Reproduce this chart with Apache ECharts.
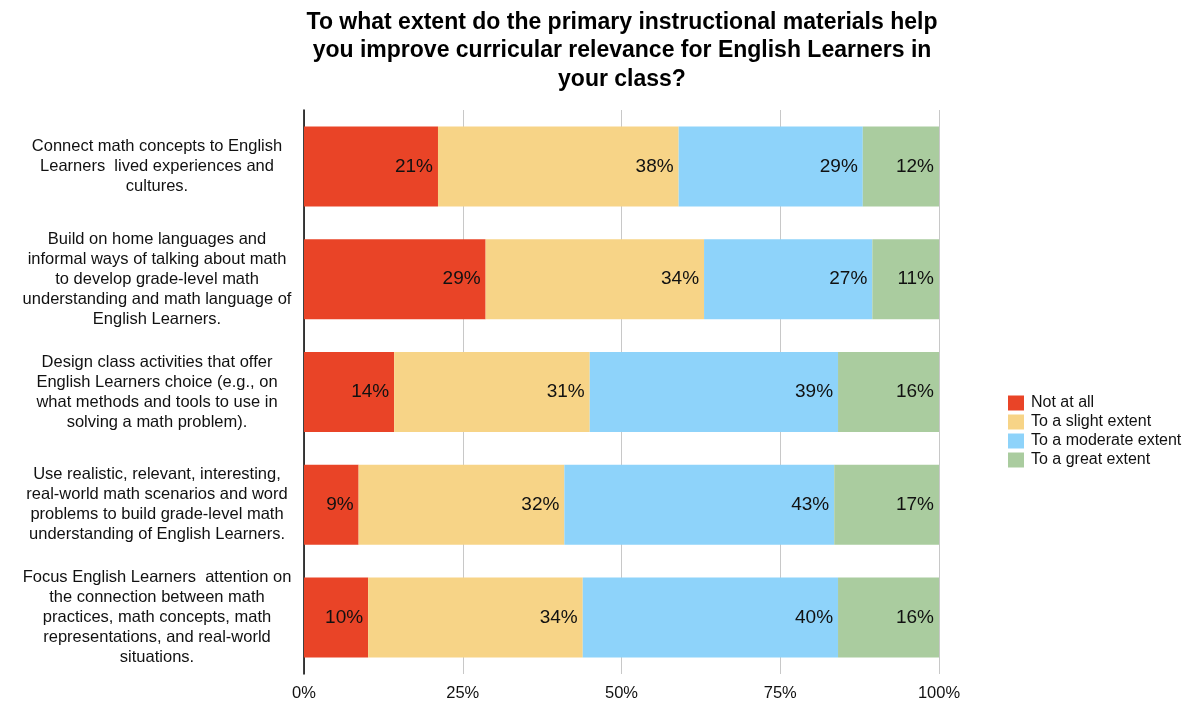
<!DOCTYPE html>
<html>
<head>
<meta charset="utf-8">
<script src="https://cdn.jsdelivr.net/npm/echarts@6/dist/echarts.min.js"></script>
<style>
  html, body { margin: 0; padding: 0; background: #fff; }
  #chartArea { width: 1194px; height: 702px; }
</style>
</head>
<body>
<div id="chartArea"></div>
<script>
// statements, top to bottom as in the picture
var categories = [
    'Connect math concepts to English\nLearners  lived experiences and\ncultures.',
    'Build on home languages and\ninformal ways of talking about math\nto develop grade-level math\nunderstanding and math language of\nEnglish Learners.',
    'Design class activities that offer\nEnglish Learners choice (e.g., on\nwhat methods and tools to use in\nsolving a math problem).',
    'Use realistic, relevant, interesting,\nreal-world math scenarios and word\nproblems to build grade-level math\nunderstanding of English Learners.',
    'Focus English Learners  attention on\nthe connection between math\npractices, math concepts, math\nrepresentations, and real-world\nsituations.'
];
var seriesNames = ['Not at all', 'To a slight extent', 'To a moderate extent', 'To a great extent'];
// shares (%) per statement
var notAtAll = [21.1, 28.6, 14.2, 8.6, 10.1];
var slight   = [37.9, 34.4, 30.8, 32.4, 33.8];
var moderate = [29.0, 26.5, 39.1, 42.5, 40.2];
var great    = [12.0, 10.5, 15.9, 16.5, 15.9];
var xTicks = [0, 25, 50, 75, 100];
var colors = ['#E94427', '#F7D487', '#8ED3FA', '#AACC9F'];

var FONT = '"Liberation Sans", Arial, Helvetica, sans-serif';

var values = [notAtAll, slight, moderate, great];
var series = [];
for (var i = 0; i < seriesNames.length; i++) {
    series.push({
        name: seriesNames[i],
        type: 'bar',
        stack: 'total',
        barWidth: 80,
        itemStyle: { color: colors[i] },
        label: {
            show: true,
            position: 'insideRight',
            distance: 5,
            color: '#111',
            fontFamily: FONT,
            fontSize: 19,
            formatter: function (p) { return Math.round(p.value) + '%'; }
        },
        data: values[i].slice().reverse()
    });
}

var option = {
    backgroundColor: '#fff',
    animation: false,
    title: {
        text: 'To what extent do the primary instructional materials help\nyou improve curricular relevance for English Learners in\nyour class?',
        left: 617,
        textAlign: 'center',
        top: 3,
        textStyle: {
            fontFamily: FONT,
            fontWeight: 'bold',
            fontSize: 23,
            lineHeight: 28.5,
            color: '#000'
        }
    },
    legend: {
        orient: 'vertical',
        left: 1003,
        top: 390,
        itemWidth: 16,
        itemHeight: 15,
        itemGap: 3,
        icon: 'rect',
        textStyle: { fontFamily: FONT, fontSize: 16, color: '#111', padding: [0, 0, 0, 2] },
        data: seriesNames
    },
    grid: {
        left: 304,
        top: 110,
        width: 635,
        height: 564
    },
    xAxis: {
        type: 'value',
        min: 0,
        max: 100,
        interval: 25,
        axisLine: { show: false },
        axisTick: { show: false },
        splitLine: { show: true, lineStyle: { color: '#c8c8c8', width: 1 } },
        axisLabel: {
            fontFamily: FONT,
            fontSize: 16.5,
            color: '#111',
            margin: 11,
            formatter: function (v) { return xTicks.indexOf(v) > -1 ? v + '%' : ''; }
        }
    },
    yAxis: {
        type: 'category',
        data: categories.slice().reverse(),
        axisLine: { show: true, lineStyle: { color: '#000', width: 1.5 } },
        axisTick: { show: false },
        axisLabel: {
            fontFamily: FONT,
            fontSize: 16.5,
            lineHeight: 20,
            color: '#111',
            align: 'center',
            padding: [10, 0, 0, 0],
            margin: 147
        }
    },
    series: series
};

var myChart = echarts.init(document.getElementById('chartArea'));
myChart.setOption(option);
</script>
</body>
</html>
